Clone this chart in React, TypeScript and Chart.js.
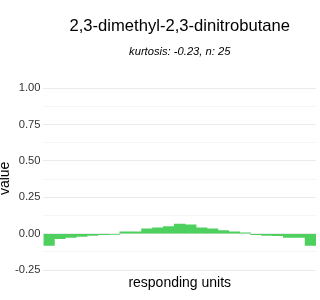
import React, { useEffect, useRef } from "react";
import { Chart, registerables } from "chart.js";

Chart.register(...registerables);

const titleText = "2,3-dimethyl-2,3-dinitrobutane";
const subtitleText = "kurtosis: -0.23, n: 25";
const xTitle = "responding units";
const yTitle = "value";

const categories = [
  "1", "2", "3", "4", "5", "6", "7", "8", "9", "10", "11", "12", "13",
  "14", "15", "16", "17", "18", "19", "20", "21", "22", "23", "24", "25",
];

const values = [
  -0.08, -0.033, -0.026, -0.018, -0.011, -0.006, -0.005, 0.013, 0.013,
  0.033, 0.041, 0.049, 0.067, 0.062, 0.041, 0.034, 0.021, 0.014, 0.007,
  -0.007, -0.012, -0.013, -0.025, -0.025, -0.08,
];

const majorTicks = [-0.25, 0, 0.25, 0.5, 0.75, 1.0];
const minorTicks = [-0.125, 0.125, 0.375, 0.625, 0.875];

const FONT = "'Liberation Sans', Arial, Helvetica, sans-serif";

export default function App() {
  const ref = useRef<HTMLCanvasElement>(null);

  useEffect(() => {
    document.body.style.margin = "0";
    const allTicks = [...majorTicks, ...minorTicks].sort((a, b) => a - b);
    const chart = new Chart(ref.current!, {
      type: "bar",
      data: {
        labels: categories,
        datasets: [
          {
            data: values,
            backgroundColor: "#4dd05e",
            borderWidth: 0,
            categoryPercentage: 1,
            barPercentage: 1,
          },
        ],
      },
      options: {
        responsive: false,
        animation: false,
        layout: { padding: { left: 0, right: 4, top: 0, bottom: 0 } },
        plugins: {
          legend: { display: false },
          tooltip: { enabled: false },
          title: {
            display: true,
            text: titleText,
            fullSize: false,
            color: "#000",
            font: { family: FONT, size: 16.6, weight: "normal" },
            padding: { top: 16.5, bottom: 0 },
          },
          subtitle: {
            display: true,
            text: subtitleText,
            fullSize: false,
            color: "#000",
            font: { family: FONT, size: 11.2, style: "italic", weight: "normal" },
            padding: { top: 8.4, bottom: 22.5 },
          },
        },
        scales: {
          x: {
            grid: { display: false, drawTicks: false },
            border: { display: false },
            ticks: { display: false },
            title: {
              display: true,
              text: xTitle,
              color: "#000",
              font: { family: FONT, size: 14 },
              padding: { top: -1.7, bottom: 8.9 },
            },
          },
          y: {
            min: -0.29,
            max: 1.05,
            afterBuildTicks: (scale: any) => {
              scale.ticks = allTicks.map((v) => ({ value: v }));
            },
            grid: {
              drawTicks: false,
              color: (ctx: any) =>
                majorTicks.includes(ctx.tick?.value) ? "#ebebeb" : "#f5f5f5",
              lineWidth: 1,
            },
            border: { display: false },
            ticks: {
              autoSkip: false,
              padding: 3,
              color: "#333",
              font: { family: FONT, size: 11.2 },
              callback: (v: any) =>
                majorTicks.includes(Number(v)) ? Number(v).toFixed(2) : "",
            },
            title: {
              display: true,
              text: yTitle,
              color: "#000",
              font: { family: FONT, size: 14 },
              padding: { top: -2.9, bottom: -1.9 },
            },
          },
        },
      },
    });
    return () => chart.destroy();
  }, []);

  return <canvas ref={ref} width={320} height={300} />;
}
